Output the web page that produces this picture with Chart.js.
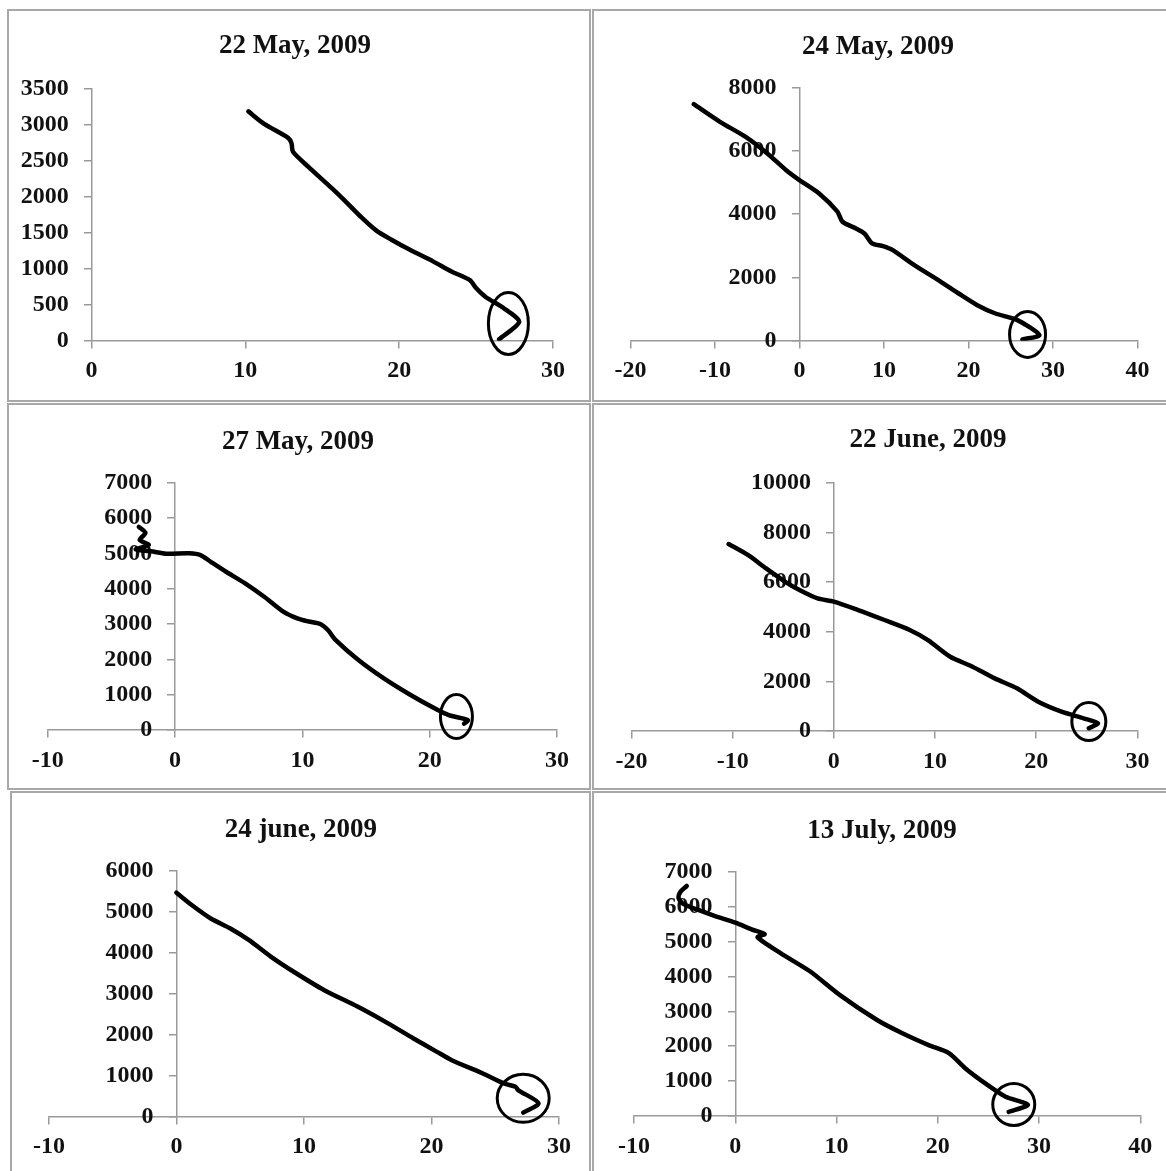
<!DOCTYPE html>
<html>
<head>
<meta charset="utf-8">
<script src="https://cdn.jsdelivr.net/npm/chart.js@4.4.1/dist/chart.umd.min.js"></script>
<style>
  html, body { margin: 0; padding: 0; background: #fff; overflow: hidden; }
  body { width: 1166px; height: 1171px; position: relative; }
  .panel { position: absolute; border: 2px solid #a8a8a8; box-sizing: border-box; background: #fff; }
  .panel canvas { position: absolute; left: 0; top: 0; }
  .title { position: absolute; width: 400px; text-align: center; font: bold 27px "Liberation Serif", "Times New Roman", serif; line-height: 27px; color: #111; white-space: nowrap; }
</style>
</head>
<body>
<script>
// --- data (x, y pairs in drawing order) ---
const titles = ['22 May, 2009', '24 May, 2009', '27 May, 2009', '22 June, 2009', '24 june, 2009', '13 July, 2009'];

const may22X = [10.2, 11.2, 12.8, 13.0, 13.1, 14.1, 16.1, 17.5, 18.5, 19.5, 20.7, 22.2, 23.4, 24.6, 25.0, 25.6, 26.8, 27.8, 26.5];
const may22Y = [3180, 3010, 2810, 2740, 2620, 2410, 2020, 1720, 1530, 1400, 1260, 1100, 960, 840, 730, 610, 450, 260, 20];

const may24X = [-12.5, -9.4, -6.4, -3.8, -1.6, 0, 2.3, 4.5, 5.1, 6.7, 7.7, 8.6, 9.9, 11.0, 13.6, 16.7, 18.8, 21.0, 23.2, 25.8, 28.4, 26.4];
const may24Y = [7480, 6920, 6450, 5920, 5400, 5080, 4660, 4080, 3760, 3550, 3390, 3080, 2990, 2870, 2390, 1870, 1500, 1130, 860, 650, 180, 40];

const may27X = [-2.85, -2.33, -2.78, -2.07, -3.1, -1.9, -0.7, 1.1, 2.0, 2.8, 4.0, 5.5, 7.0, 8.5, 9.6, 10.5, 11.4, 12.0, 12.6, 14.4, 16.4, 18.5, 20.6, 21.5, 23.0, 22.7];
const may27Y = [5750, 5580, 5380, 5240, 5110, 5060, 4990, 5000, 4950, 4760, 4480, 4150, 3770, 3350, 3160, 3070, 3000, 2830, 2550, 1980, 1460, 990, 570, 420, 280, 180];

const jun22X = [-10.4, -8.5, -6.7, -4.8, -3.4, -1.6, 0, 2.4, 5.0, 7.5, 9.3, 11.5, 13.7, 15.9, 18.1, 20.2, 22.5, 24.7, 26.1, 25.2];
const jun22Y = [7530, 7090, 6550, 6010, 5680, 5340, 5210, 4870, 4470, 4070, 3660, 2990, 2590, 2120, 1720, 1180, 780, 510, 310, 110];

const jun24X = [0, 1.2, 2.7, 4.2, 5.7, 7.4, 9.2, 11.6, 14.2, 16.6, 18.6, 20.4, 21.6, 24.0, 25.7, 26.6, 26.8, 28.4, 27.2];
const jun24Y = [5470, 5170, 4840, 4600, 4310, 3910, 3540, 3090, 2690, 2280, 1910, 1590, 1380, 1060, 810, 730, 650, 330, 100];

const jul13X = [-4.8, -5.4, -5.6, -5.1, -3.8, -2.0, 0, 1.6, 2.9, 2.2, 4.5, 7.4, 10.3, 14.0, 16.5, 19.1, 21.1, 22.7, 24.9, 26.7, 28.9, 27.0];
const jul13Y = [6590, 6430, 6240, 6070, 5920, 5730, 5540, 5350, 5210, 5120, 4660, 4140, 3470, 2750, 2370, 2030, 1800, 1370, 890, 550, 320, 120];

// axis ranges and tick steps
const xMin = [0, -20, -10, -20, -10, -10];
const xMax = [30, 40, 30, 30, 30, 40];
const yMax = [3500, 8000, 7000, 10000, 6000, 7000];
const yStep = [500, 2000, 1000, 2000, 1000, 1000];

// hand-drawn rings around the end of each curve (data coords)
const ringX = [27.1, 27.0, 22.1, 25.2, 27.2, 27.5];
const ringY = [240, 200, 380, 380, 450, 330];

const seriesX = [may22X, may24X, may27X, jun22X, jun24X, jul13X];
const seriesY = [may22Y, may24Y, may27Y, jun22Y, jun24Y, jul13Y];

// layout: panel box [left, top, width, height], plot area [left, top, right, bottom], title centre / baseline, ring radii
const layout = [
  { box: [7, 9, 584, 393],   area: [91.5, 88.3, 553, 340.7],   tx: 295, tb: 54,    rx: 20, ry: 31 },
  { box: [592, 9, 580, 393], area: [630.4, 87.7, 1137.4, 340.7], tx: 878, tb: 54.3, rx: 18, ry: 23 },
  { box: [7, 403, 584, 387], area: [47.8, 482.7, 557, 730],     tx: 298, tb: 449.3, rx: 16, ry: 22 },
  { box: [592, 403, 580, 387], area: [631.5, 482.7, 1137.4, 731], tx: 928, tb: 447.3, rx: 17, ry: 19 },
  { box: [10, 791, 581, 390], area: [48.9, 871, 558.9, 1116.7],  tx: 301, tb: 837.7, rx: 26, ry: 24 },
  { box: [592, 791, 580, 390], area: [634.1, 871.7, 1140.3, 1116], tx: 882, tb: 838.7, rx: 21, ry: 21 }
];

const ringPlugin = {
  id: 'ring',
  afterDatasetsDraw(chart, args, opts) {
    if (opts.cx == null) return;
    const ctx = chart.ctx;
    const px = chart.scales.x.getPixelForValue(opts.cx);
    const py = chart.scales.y.getPixelForValue(opts.cy);
    ctx.save();
    ctx.beginPath();
    ctx.ellipse(px, py, opts.rx, opts.ry, 0, 0, Math.PI * 2);
    ctx.lineWidth = 3;
    ctx.strokeStyle = '#000';
    ctx.stroke();
    ctx.restore();
  }
};

const tickFont = { family: '"Liberation Serif", "Times New Roman", serif', size: 24, weight: 'bold' };
const axisGrey = '#9a9a9a';
const BORDER = 2;
// a y axis pinned at x = 0 draws its labels flush against the line, so pad them on the right
const Y_GAP = '\u2002 \u2009';

layout.forEach(function (p, i) {
  const div = document.createElement('div');
  div.className = 'panel';
  div.style.left = p.box[0] + 'px';
  div.style.top = p.box[1] + 'px';
  div.style.width = p.box[2] + 'px';
  div.style.height = p.box[3] + 'px';
  document.body.appendChild(div);

  const cw = p.box[2] - 2 * BORDER;
  const ch = p.box[3] - 2 * BORDER;
  const ox = p.box[0] + BORDER;
  const oy = p.box[1] + BORDER;

  const canvas = document.createElement('canvas');
  canvas.width = cw;
  canvas.height = ch;
  canvas.style.width = cw + 'px';
  canvas.style.height = ch + 'px';
  div.appendChild(canvas);

  const t = document.createElement('div');
  t.className = 'title';
  t.textContent = titles[i];
  t.style.left = (p.tx - 200) + 'px';
  t.style.top = (p.tb - 22.6) + 'px';
  document.body.appendChild(t);

  const points = seriesX[i].map((x, k) => ({ x: x, y: seriesY[i][k] }));

  new Chart(canvas.getContext('2d'), {
    type: 'scatter',
    data: {
      datasets: [{
        data: points,
        showLine: true,
        borderColor: '#000',
        borderWidth: 4.5,
        tension: 0.25,
        pointRadius: 0,
        borderCapStyle: 'round',
        borderJoinStyle: 'round'
      }]
    },
    plugins: [ringPlugin],
    options: {
      responsive: false,
      animation: false,
      layout: {
        padding: {
          left: p.area[0] - ox,
          top: p.area[1] - oy,
          right: ox + cw - p.area[2],
          bottom: oy + ch - p.area[3]
        }
      },
      plugins: {
        legend: { display: false },
        tooltip: { enabled: false },
        ring: { cx: ringX[i], cy: ringY[i], rx: p.rx, ry: p.ry }
      },
      scales: {
        x: {
          type: 'linear',
          position: { y: 0 },
          min: xMin[i],
          max: xMax[i],
          ticks: { stepSize: 10, font: tickFont, color: '#111', padding: 9, maxRotation: 0,
                   callback: v => String(v) },
          grid: { drawOnChartArea: false, drawTicks: true, tickLength: 7, color: axisGrey, lineWidth: 1.5 },
          border: { display: true, color: axisGrey, width: 1.5 }
        },
        y: {
          type: 'linear',
          position: { x: 0 },
          min: 0,
          max: yMax[i],
          ticks: { stepSize: yStep[i], font: tickFont, color: '#111', padding: 15,
                   callback: v => String(v) + Y_GAP },
          grid: { drawOnChartArea: false, drawTicks: true, tickLength: 7, color: axisGrey, lineWidth: 1.5 },
          border: { display: true, color: axisGrey, width: 1.5 }
        }
      }
    }
  });
});
</script>
</body>
</html>
